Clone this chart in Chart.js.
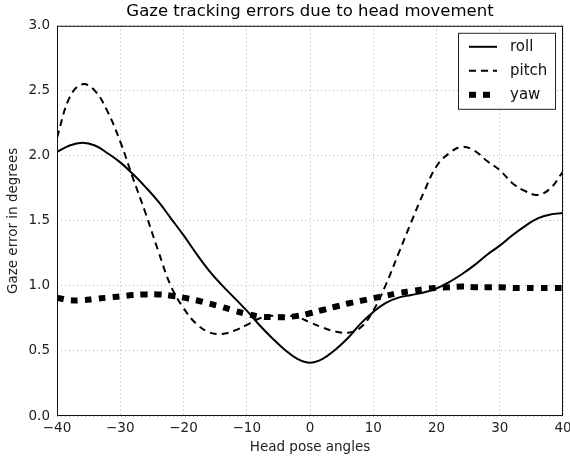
<!DOCTYPE html>
<html>
<head>
<meta charset="utf-8">
<script src="https://cdn.jsdelivr.net/npm/chart.js@4/dist/chart.umd.min.js"></script>
<style>
  html, body { margin: 0; padding: 0; background: #fff; }
  #wrap { width: 570px; height: 458px; }
</style>
</head>
<body>
<div id="wrap"><canvas id="chart"></canvas></div>
<script>
const angles = [-40, -38, -36, -34, -32, -30, -28, -26, -24, -22, -20, -18, -16, -14, -12, -10, -8, -6, -4, -2,
  0, 2, 4, 6, 8, 10, 12, 14, 16, 18, 20, 22, 24, 26, 28, 30, 32, 34, 36, 38, 40]

const roll = [2.03, 2.08, 2.10, 2.08, 2.02, 1.95, 1.86, 1.76, 1.65, 1.52, 1.39, 1.25, 1.12, 1.01, 0.91, 0.81,
  0.70, 0.60, 0.51, 0.44, 0.41, 0.44, 0.51, 0.60, 0.71, 0.80, 0.87, 0.91, 0.93, 0.95, 0.98, 1.03, 1.09, 1.16,
  1.24, 1.31, 1.39, 1.46, 1.52, 1.55, 1.56]

const pitch = [2.14, 2.45, 2.55, 2.50, 2.34, 2.11, 1.83, 1.56, 1.27, 1.00, 0.83, 0.71, 0.645, 0.63, 0.655, 0.70,
  0.75, 0.77, 0.77, 0.76, 0.72, 0.68, 0.65, 0.64, 0.68, 0.81, 1.01, 1.25, 1.49, 1.72, 1.92, 2.02, 2.07, 2.04,
  1.96, 1.89, 1.79, 1.73, 1.70, 1.75, 1.88]

const yaw = [0.91, 0.89, 0.89, 0.90, 0.91, 0.92, 0.93, 0.935, 0.935, 0.925, 0.91, 0.89, 0.865, 0.84, 0.81, 0.785,
  0.765, 0.76, 0.76, 0.77, 0.79, 0.815, 0.84, 0.865, 0.885, 0.905, 0.925, 0.945, 0.96, 0.975, 0.985, 0.99, 0.995,
  0.99, 0.99, 0.99, 0.985, 0.985, 0.985, 0.985, 0.985]

const seriesNames = ["roll", "pitch", "yaw"]
const xTicks = [-40, -30, -20, -10, 0, 10, 20, 30, 40]
const yTicks = [0.0, 0.5, 1.0, 1.5, 2.0, 2.5, 3.0]

const FONT = "'DejaVu Sans', sans-serif"
const toPoints = (vals) => vals.map((v, i) => ({x: angles[i], y: v}))

const lineStyles = [
  {borderWidth: 2, borderDash: []},
  {borderWidth: 2, borderDash: [7, 5]},
  {borderWidth: 6, borderDash: [7, 7]}
]

const datasets = [roll, pitch, yaw].map((vals, i) => ({
  label: seriesNames[i],
  data: toPoints(vals),
  borderColor: "#000",
  borderWidth: lineStyles[i].borderWidth,
  borderDash: lineStyles[i].borderDash,
  borderCapStyle: "butt",
  pointRadius: 0,
  tension: 0.4,
  fill: false
}))

// frame around the plot + matplotlib-like legend box in the top right
const framePlugin = {
  id: "frame",
  afterDatasetsDraw(chart) {
    const {ctx, chartArea: a} = chart
    ctx.save()
    ctx.strokeStyle = "#111"
    ctx.lineWidth = 1
    ctx.setLineDash([])
    ctx.strokeRect(a.left + 0.5, a.top + 0.5, a.right - a.left - 1, a.bottom - a.top - 1)

    const bx = a.right - 105, by = a.top + 7, bw = 97, bh = 76
    ctx.fillStyle = "#fff"
    ctx.fillRect(bx, by, bw, bh)
    ctx.strokeStyle = "#222"
    ctx.strokeRect(bx + 0.5, by + 0.5, bw, bh)

    ctx.font = "15px " + FONT
    ctx.textBaseline = "middle"
    ctx.fillStyle = "#111"
    chart.data.datasets.forEach((ds, i) => {
      const y = by + 14 + i * 24
      ctx.strokeStyle = "#000"
      ctx.lineWidth = ds.borderWidth
      ctx.setLineDash(ds.borderDash)
      ctx.lineCap = "butt"
      ctx.beginPath()
      ctx.moveTo(bx + 11, y)
      ctx.lineTo(bx + 39, y)
      ctx.stroke()
      ctx.fillText(ds.label, bx + 52, y)
    })
    ctx.restore()
  }
}

const gridOpts = {color: "#b5b5b5", lineWidth: 1, drawTicks: false}

new Chart(document.getElementById("chart"), {
  type: "line",
  data: {datasets: datasets},
  options: {
    responsive: true,
    maintainAspectRatio: false,
    animation: false,
    layout: {padding: {left: 0, right: 7, top: 0, bottom: 0}},
    scales: {
      x: {
        type: "linear",
        min: -40,
        max: 40,
        afterBuildTicks: (s) => { s.ticks = xTicks.map(v => ({value: v})) },
        afterFit: (s) => { s.height = 42; s.paddingLeft = 0; s.paddingRight = 0 },
        grid: gridOpts,
        border: {display: false, dash: [1, 3]},
        ticks: {
          padding: 4,
          color: "#222",
          font: {family: FONT, size: 13.5},
          callback: (v) => String(v).replace("-", "\u2212")
        },
        title: {
          display: true,
          text: "Head pose angles",
          color: "#222",
          font: {family: FONT, size: 13.5},
          padding: {top: 0, bottom: 2}
        }
      },
      y: {
        min: 0,
        max: 3,
        afterBuildTicks: (s) => { s.ticks = yTicks.map(v => ({value: v})) },
        afterFit: (s) => { s.width = 57; s.paddingTop = 0; s.paddingBottom = 0 },
        grid: gridOpts,
        border: {display: false, dash: [1, 3]},
        ticks: {
          padding: 7,
          color: "#222",
          font: {family: FONT, size: 13.5},
          callback: (v) => Number(v).toFixed(1)
        },
        title: {
          display: true,
          text: "Gaze error in degrees",
          color: "#222",
          font: {family: FONT, size: 13.5},
          padding: {top: 5, bottom: 0}
        }
      }
    },
    plugins: {
      legend: {display: false},
      tooltip: {enabled: false},
      title: {
        display: true,
        fullSize: false,
        text: "Gaze tracking errors due to head movement",
        color: "#000",
        font: {family: FONT, size: 16.5, weight: "normal"},
        padding: {top: 2, bottom: 4}
      }
    }
  },
  plugins: [framePlugin]
})
</script>
</body>
</html>
